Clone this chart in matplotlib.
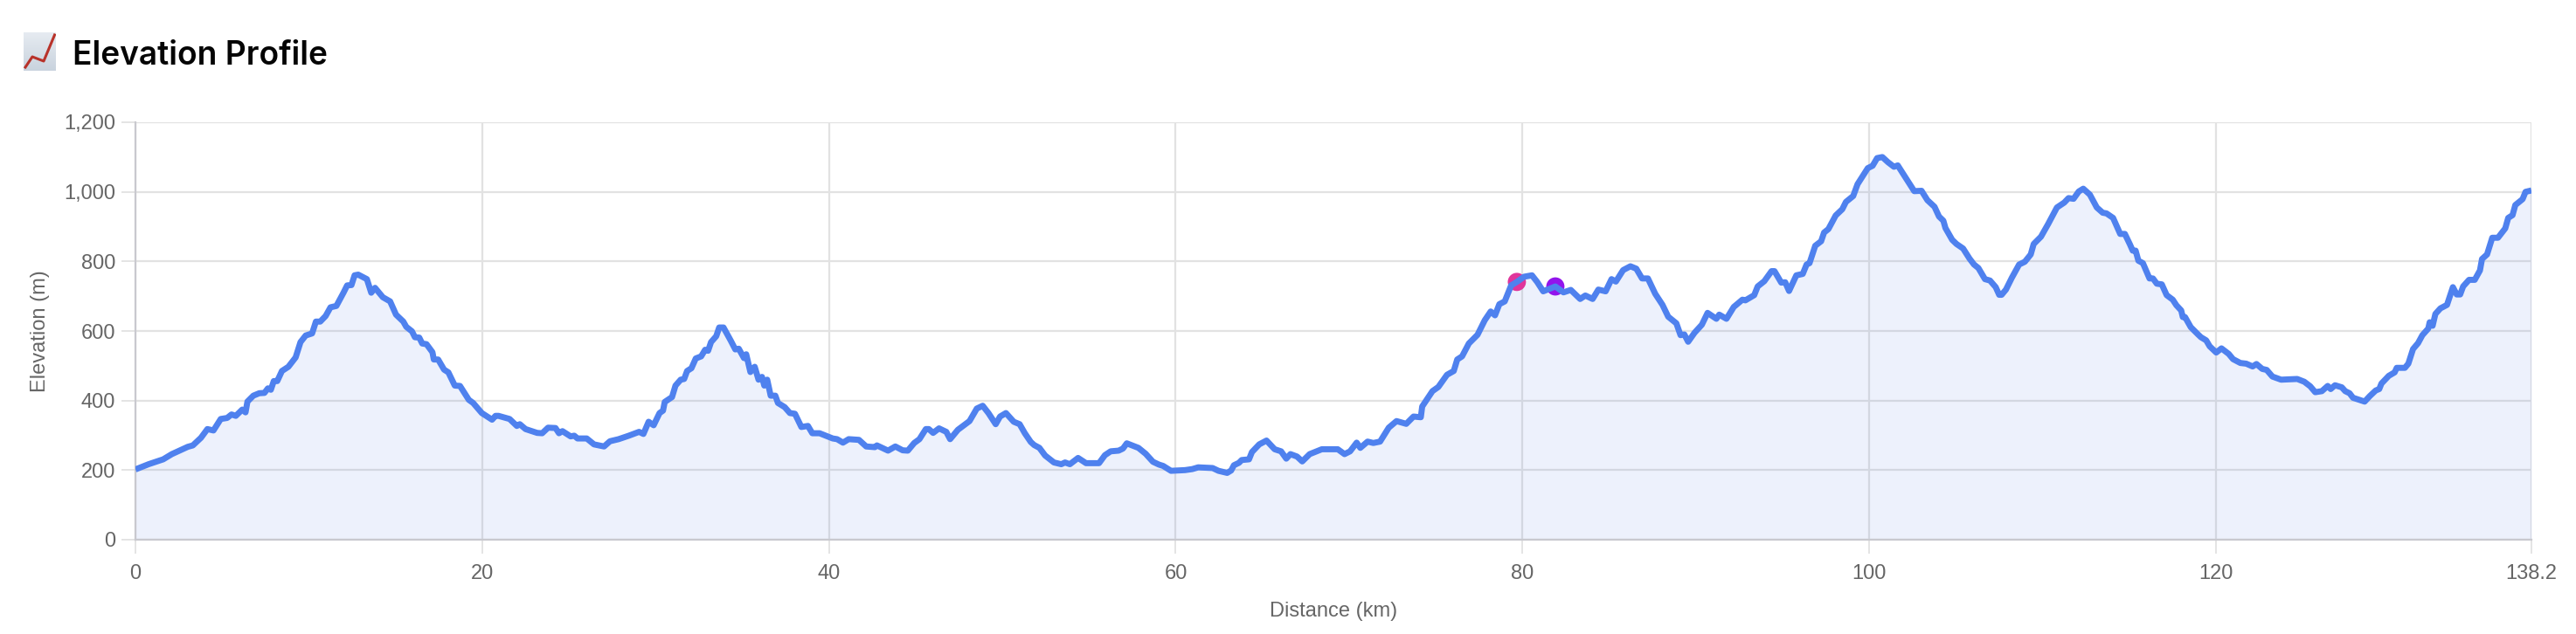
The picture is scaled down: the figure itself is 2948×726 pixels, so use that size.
#!/usr/bin/env python
import numpy as np
import matplotlib
matplotlib.use('Agg')
import matplotlib.pyplot as plt

# values
distance_km = [
    0, 0.76, 1.6, 2.1, 3.02, 3.31, 3.78, 4.15, 4.5, 4.92, 5.29, 5.54, 5.79, 6.16, 6.35, 6.46, 6.8, 7.14, 7.44, 7.64,
    7.81, 7.98, 8.18, 8.45, 8.82, 9.24, 9.52, 9.82, 10.19, 10.41, 10.66, 10.97, 11.25, 11.59, 12.0, 12.21, 12.46, 12.64, 12.85, 13.35,
    13.6, 13.82, 14.27, 14.69, 15.03, 15.45, 15.62, 15.95, 16.12, 16.37, 16.54, 16.79, 17.13, 17.21, 17.46, 17.8, 18.05, 18.42, 18.72, 19.23,
    19.48, 19.98, 20.57, 20.77, 20.94, 21.58, 22.0, 22.17, 22.5, 23.17, 23.46,
    23.8, 24.23, 24.43, 24.63, 25.1, 25.31, 25.5, 26.03, 26.45, 27.03, 27.37, 27.87, 28.46, 29.05, 29.3, 29.6, 29.89, 30.23, 30.43,
    30.53, 30.95, 31.15, 31.45, 31.65, 31.82, 32.07, 32.32, 32.63, 32.86, 33.03, 33.2, 33.5, 33.67, 33.92, 34.34, 34.6, 34.8, 35.1, 35.23,
    35.47, 35.72, 35.94, 36.14, 36.27, 36.44, 36.64, 36.91, 37.06, 37.45, 37.75, 38.04, 38.41, 38.79, 39.04, 39.46, 40.22, 40.47, 40.81, 41.14,
    41.73, 42.15, 42.65, 42.77, 43.41, 43.83, 44.25, 44.55, 44.92, 45.22, 45.59, 45.76, 46.01, 46.35, 46.77, 46.99,
    47.44, 48.11, 48.53, 48.87, 49.2, 49.62, 49.87, 50.21, 50.66, 51.0, 51.3, 51.64, 51.84, 52.14, 52.47, 52.98, 53.4, 53.62, 53.9, 54.37,
    54.83, 55.58, 55.92, 56.25, 56.71, 56.96, 57.18, 57.85, 58.27, 58.69, 59.03, 59.28, 59.73, 60.54, 60.96, 61.3, 62.13, 62.47, 62.97, 63.2,
    63.36, 63.65, 63.81, 64.23,
    64.4, 64.82, 65.24, 65.71, 66.08, 66.38, 66.62, 67.0, 67.3, 67.73, 68.43, 69.35, 69.74, 70.06, 70.44, 70.65, 71.07, 71.4, 71.79, 72.29,
    72.74, 73.3, 73.72, 74.14, 74.22, 74.81, 75.15, 75.65, 76.04, 76.24, 76.52, 76.91, 77.41, 77.83, 78.17, 78.42, 78.67, 78.98, 79.35, 79.68,
    80.1, 80.55, 80.85, 81.2, 81.9, 82.37, 82.79, 83.33, 83.63, 84.05, 84.38, 84.8, 85.14, 85.39, 85.81, 86.23, 86.57, 86.9, 87.24, 87.66,
    88.08, 88.41, 88.88, 89.12, 89.34, 89.56, 89.93, 90.35, 90.68, 91.19, 91.35, 91.77, 92.19, 92.69, 92.86, 93.37,
    93.57, 93.95, 94.37, 94.54, 94.93, 95.16, 95.38, 95.8, 96.17, 96.39, 96.56, 96.89, 97.23, 97.4, 97.65, 98.07, 98.45, 98.66, 99.08, 99.33,
    99.92, 100.2, 100.46, 100.76, 101.09, 101.43, 101.65, 102.6, 103.02, 103.36, 103.77, 104.03, 104.28, 104.4, 104.79, 105.04, 105.42, 105.79, 106.05, 106.3,
    106.68, 106.97, 107.3, 107.5, 107.64, 107.89, 108.23, 108.65, 108.98, 109.32, 109.49, 109.91, 110.33, 110.83, 111.25, 111.5, 111.79, 112.09, 112.35, 112.73,
    113.13, 113.47, 113.69, 114.07,
    114.48, 114.75, 115.04, 115.2, 115.37, 115.53, 115.79, 116.17, 116.37, 116.59, 116.88, 117.16, 117.51, 117.72, 118.0, 118.09, 118.22, 118.55, 118.97, 119.14,
    119.44, 119.64, 120.02, 120.32, 120.74, 120.99, 121.41, 121.75, 122.12, 122.34, 122.67, 122.93, 123.26, 123.76, 124.69, 125.1, 125.44, 125.73, 126.11, 126.45,
    126.62, 126.87, 127.26, 127.46, 127.71, 127.91, 128.58, 128.88, 129.22, 129.42, 129.55, 129.97, 130.31, 130.43, 130.9, 131.1, 131.37, 131.66, 131.91, 132.25,
    132.33, 132.5, 132.66, 132.95, 133.33, 133.67, 133.89, 134.09, 134.26, 134.6, 134.93, 135.23, 135.35, 135.64, 135.94, 136.27, 136.69, 136.86, 137.11, 137.27,
    137.69, 137.86, 138.2,
]
elevation_m = [
    202, 217, 231, 246, 267, 271, 293, 318, 314, 347, 350, 360, 356, 374, 366, 397, 414, 421, 422, 435,
    431, 456, 456, 485, 497, 524, 568, 587, 593, 627, 627, 643, 668, 672, 710, 731, 732, 760, 762, 749,
    710, 724, 697, 685, 647, 627, 612, 599, 582, 581, 564, 562, 539, 518, 518, 489, 481, 443, 442, 402,
    393, 364, 345, 356, 356, 347, 327, 332, 318, 307, 306,
    322, 321, 306, 312, 297, 299, 291, 291, 274, 268, 283, 289, 299, 310, 304, 339, 329, 364, 371,
    396, 410, 443, 460, 462, 485, 493, 521, 527, 546, 543, 568, 585, 610, 610, 572, 547, 549, 522, 533,
    482, 497, 460, 468, 443, 460, 414, 414, 393, 381, 364, 362, 324, 327, 306, 306, 291, 289, 279, 289,
    287, 268, 266, 271, 256, 268, 257, 256, 278, 289, 318, 318, 307, 320, 310, 289,
    316, 341, 377, 385, 364, 332, 354, 364, 339, 332, 306, 281, 272, 264, 242, 222, 217, 222, 217, 235,
    220, 220, 243, 254, 256, 262, 277, 264, 247, 224, 216, 212, 198, 200, 203, 208, 206, 198, 192, 199,
    214, 221, 229, 231,
    252, 274, 285, 260, 254, 233, 246, 239, 225, 246, 260, 260, 246, 254, 279, 264, 282, 278, 282, 322,
    341, 333, 354, 352, 383, 427, 439, 474, 485, 518, 527, 564, 589, 631, 656, 645, 677, 685, 731, 741,
    756, 760, 741, 714, 728, 711, 718, 692, 702, 692, 719, 714, 749, 742, 775, 786, 779, 751, 751, 707,
    675, 641, 622, 588, 590, 569, 595, 618, 652, 635, 647, 635, 669, 690, 688, 703,
    728, 743, 772, 772, 739, 740, 715, 760, 764, 791, 795, 845, 858, 883, 893, 932, 950, 971, 988, 1022,
    1068, 1075, 1097, 1100, 1085, 1072, 1076, 1002, 1003, 976, 957, 929, 917, 896, 862, 850, 837, 808, 791, 781,
    749, 745, 726, 704, 704, 719, 753, 791, 799, 820, 850, 871, 908, 955, 969, 982, 980, 1001, 1009, 992,
    955, 940, 938, 925,
    879, 879, 849, 831, 831, 802, 795, 751, 751, 736, 734, 703, 690, 674, 659, 640, 640, 611, 590, 582,
    573, 556, 538, 550, 534, 519, 508, 506, 498, 505, 491, 488, 469, 460, 462, 454, 441, 424, 427, 442,
    433, 444, 438, 427, 421, 408, 397, 413, 429, 433, 449, 471, 481, 494, 494, 506, 548, 565, 588, 607,
    625, 615, 649, 665, 675, 726, 705, 705, 728, 747, 747, 774, 807, 820, 868, 868, 895, 925, 933, 962,
    979, 1000, 1004,
]
marker_km = [79.68, 81.9]
marker_m = [741, 728]
marker_colors = ['#e0359b', '#9214ec']

x_ticks = [0, 20, 40, 60, 80, 100, 120, 138.2]
x_labels = ['0', '20', '40', '60', '80', '100', '120', '138.2']
y_ticks = [0, 200, 400, 600, 800, 1000, 1200]
y_labels = ['0', '200', '400', '600', '800', '1,000', '1,200']

W, H = 2948.0, 726.0
plt.rcParams['font.family'] = ['Liberation Sans', 'DejaVu Sans']

fig = plt.figure(figsize=(W/100, H/100), dpi=100, facecolor='white')
ax = fig.add_axes([155/W, 1-618/H, (2897-155)/W, (618-140)/H])

ax.fill_between(distance_km, elevation_m, 0, color='#4169e1', alpha=0.09, linewidth=0, zorder=2)
ax.scatter(marker_km, marker_m, s=225, c=marker_colors, linewidths=0, zorder=4)
ax.plot(distance_km, elevation_m, color='#4f81ee', linewidth=5.0, solid_joinstyle='round', solid_capstyle='butt', zorder=5)

ax.set_xlim(0, 138.2)
ax.set_ylim(0, 1200)
ax.set_xticks(x_ticks)
ax.set_xticklabels(x_labels)
ax.set_yticks(y_ticks)
ax.set_yticklabels(y_labels)
ax.grid(True, color='#e2e2e2', linewidth=1.6, zorder=1)
ax.set_axisbelow(True)
ax.tick_params(axis='both', length=11.5, width=1.44, color='#e4e4e4', labelcolor='#666666', labelsize=17)
ax.tick_params(axis='x', pad=9)
ax.tick_params(axis='y', pad=5)

for side in ['top', 'right']:
    ax.spines[side].set_visible(False)
for side in ['left', 'bottom']:
    ax.spines[side].set_color('#c9c9cf')
    ax.spines[side].set_linewidth(1.6)
    ax.spines[side].set_zorder(3)

fig.text(1526/W, 1-706/H, 'Distance (km)', color='#666666', fontsize=17, ha='center', va='baseline')
fig.text(46/W, 1-379/H, 'Elevation (m)', color='#666666', fontsize=17, rotation=90, ha='center', va='center')
fig.text(83/W, 1-74/H, 'Elevation Profile', color='#050505', fontsize=26.7, family=['Inter', 'DejaVu Sans'],
         fontweight='semibold', ha='left', va='baseline')

# the chart emoji next to the title
icon = fig.add_axes([27/W, 1-81/H, 37/W, 44/H])
icon.imshow(np.linspace(0, 1, 44).reshape(-1, 1), cmap=matplotlib.colors.LinearSegmentedColormap.from_list('ic', ['#e6ebf1', '#c9d3de']),
            aspect='auto', extent=[0, 37, 44, 0])
icon.plot([2, 10, 23, 35.5], [40, 28, 33, 3], color='#b8322a', linewidth=2.2, solid_joinstyle='round')
icon.set_xlim(0, 37)
icon.set_ylim(44, 0)
icon.axis('off')

fig.savefig('out.png', dpi=100)
